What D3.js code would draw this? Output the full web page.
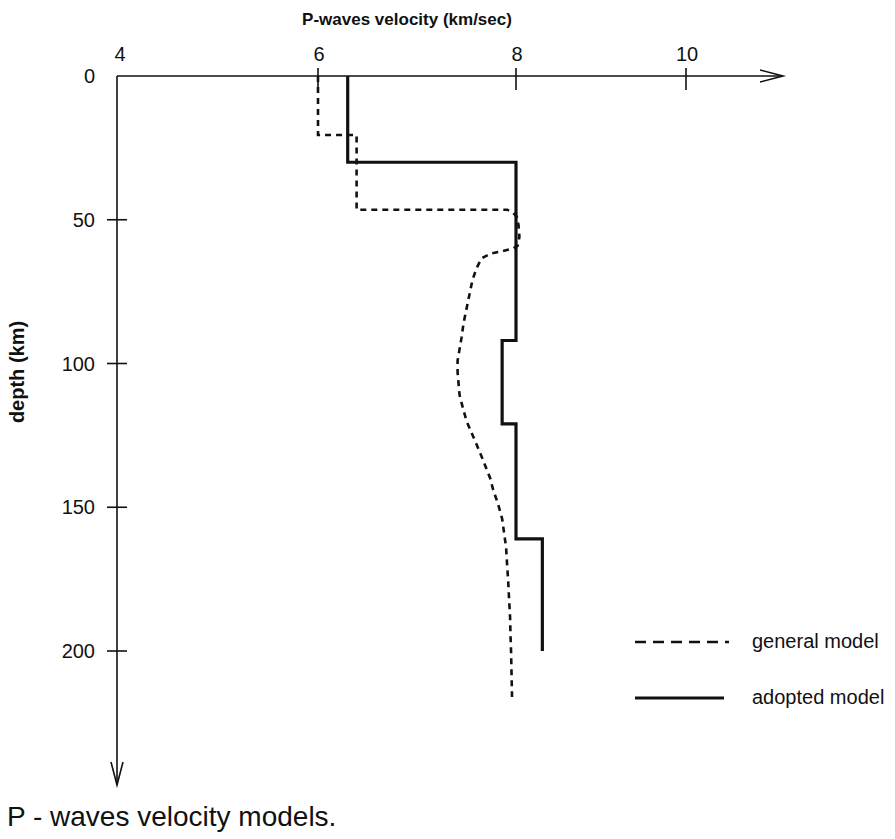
<!DOCTYPE html>
<html>
<head>
<meta charset="utf-8">
<script src="https://cdn.jsdelivr.net/npm/d3@7"></script>
<style>
  html, body { margin: 0; padding: 0; background: #fff; }
  svg { display: block; }
  text { font-family: "Liberation Sans", Arial, Helvetica, sans-serif; fill: #111; }
</style>
</head>
<body>
<svg id="chart" width="895" height="839"></svg>
<script>
// ---- data ----
const velocityTicks = [6, 8, 10];
const velocityLabels = [4, 6, 8, 10];
const depthTicks = [50, 100, 150, 200];
const depthLabels = [0, 50, 100, 150, 200];

// adopted model (step profile)
const adoptedDepth = [0, 30, 30, 92, 92, 121, 121, 161, 161, 200];
const adoptedVel   = [6.3, 6.3, 8.0, 8.0, 7.86, 7.86, 8.0, 8.0, 8.31, 8.31];

// general model
const generalDepth = [0, 20.5, 20.5, 46.5, 46.5, 47.5, 49, 52, 56, 59, 60, 61, 61.8, 63.5, 67, 71, 76, 81, 86, 91, 95, 99, 103, 107, 111, 115, 120, 124, 128, 133, 140, 144, 149, 154, 159, 164, 170, 175, 182, 188, 195, 200, 208, 216];
const generalVel   = [6.0, 6.0, 6.39, 6.39, 7.91, 7.97, 8.01, 8.03, 8.04, 8.02, 7.97, 7.85, 7.74, 7.65, 7.60, 7.56, 7.53, 7.50, 7.47, 7.45, 7.43, 7.41, 7.41, 7.42, 7.43, 7.46, 7.50, 7.55, 7.60, 7.66, 7.74, 7.77, 7.82, 7.86, 7.88, 7.90, 7.91, 7.92, 7.93, 7.94, 7.945, 7.95, 7.955, 7.96];

const legendItems = ["general model", "adopted model"];

// ---- scales ----
const x = d3.scaleLinear().domain([4, 6, 8, 10]).range([117, 318, 516, 686]);
const y = d3.scaleLinear().domain([0, 200]).range([76, 651]);

const svg = d3.select("#chart");
const axisY = y(0), axisX = x(4);
const xEnd = 783, yEnd = 785;

// axes lines
const axisG = svg.append("g").attr("stroke", "#111").attr("stroke-width", 1.6).attr("fill", "none");
axisG.append("line").attr("x1", axisX).attr("y1", axisY).attr("x2", xEnd).attr("y2", axisY);
axisG.append("polyline").attr("points", `${xEnd-23},${axisY-6} ${xEnd},${axisY} ${xEnd-23},${axisY+6}`);
axisG.append("line").attr("x1", axisX).attr("y1", axisY).attr("x2", axisX).attr("y2", yEnd);
axisG.append("polyline").attr("points", `${axisX-6},${yEnd-23} ${axisX},${yEnd} ${axisX+6},${yEnd-23}`);

// ticks
axisG.selectAll(".xt").data(velocityTicks).enter().append("line")
  .attr("x1", d => x(d)).attr("x2", d => x(d))
  .attr("y1", axisY - 8).attr("y2", axisY + 14);
axisG.selectAll(".yt").data(depthTicks).enter().append("line")
  .attr("y1", d => y(d)).attr("y2", d => y(d))
  .attr("x1", axisX - 10).attr("x2", axisX + 10);

// tick labels
svg.selectAll(".xl").data(velocityLabels).enter().append("text")
  .attr("x", d => x(d) + (d === 4 ? 3 : 1)).attr("y", 61)
  .attr("text-anchor", "middle").attr("font-size", 20)
  .text(d => d);
svg.selectAll(".yl").data(depthLabels).enter().append("text")
  .attr("x", 95).attr("y", d => y(d)).attr("dy", "0.36em")
  .attr("text-anchor", "end").attr("font-size", 20)
  .text(d => d);

// axis titles
svg.append("text").attr("x", 407).attr("y", 25).attr("text-anchor", "middle")
  .attr("font-size", 17).attr("font-weight", "bold").text("P-waves velocity (km/sec)");
svg.append("text").attr("transform", "translate(24,372) rotate(-90)").attr("text-anchor", "middle")
  .attr("font-size", 20).attr("font-weight", "bold").text("depth (km)");

// lines
const line = d3.line().x(d => x(d[1])).y(d => y(d[0]));
svg.append("path").datum(adoptedDepth.map((d, i) => [d, adoptedVel[i]]))
  .attr("d", line).attr("fill", "none").attr("stroke", "#111").attr("stroke-width", 3.2)
  .attr("stroke-linejoin", "miter");
svg.append("path").datum(generalDepth.map((d, i) => [d, generalVel[i]]))
  .attr("d", line).attr("fill", "none").attr("stroke", "#111").attr("stroke-width", 2.6)
  .attr("stroke-dasharray", "6,5");

// legend
const lg = svg.append("g");
lg.append("line").attr("x1", 635).attr("x2", 729).attr("y1", 642).attr("y2", 642)
  .attr("stroke", "#111").attr("stroke-width", 2.6).attr("stroke-dasharray", "11,7");
lg.append("line").attr("x1", 635).attr("x2", 724).attr("y1", 698).attr("y2", 698)
  .attr("stroke", "#111").attr("stroke-width", 3.2);
lg.selectAll("text").data(legendItems).enter().append("text")
  .attr("x", 752).attr("y", (d, i) => i === 0 ? 642 : 698).attr("dy", "0.32em")
  .attr("font-size", 20).text(d => d);

// caption
svg.append("text").attr("x", 7).attr("y", 826).attr("font-size", 28)
  .text("P - waves velocity models.");
</script>
</body>
</html>
